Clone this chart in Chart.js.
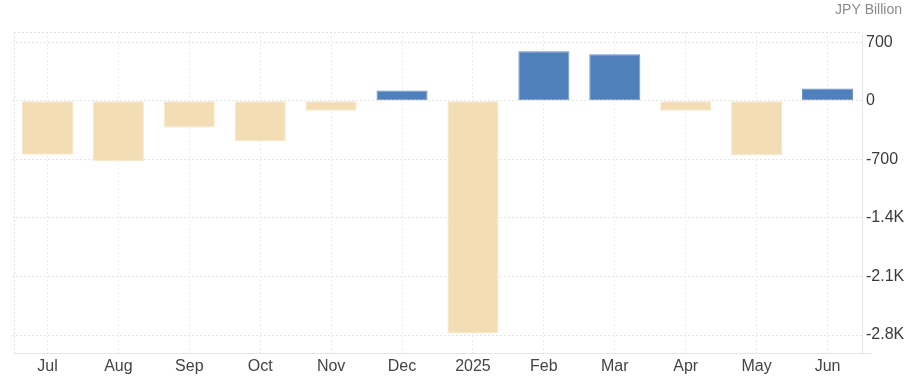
<!DOCTYPE html>
<html>
<head>
<meta charset="utf-8">
<script src="https://cdn.jsdelivr.net/npm/chart.js@4.4.1/dist/chart.umd.min.js"></script>
<style>
html,body{margin:0;padding:0;background:#fff;}
#wrap{width:914px;height:382px;position:relative;}
</style>
</head>
<body>
<div id="wrap"><canvas id="c" width="914" height="382"></canvas></div>
<script>
const categories = ['Jul','Aug','Sep','Oct','Nov','Dec','2025','Feb','Mar','Apr','May','Jun'];
const values = [-646, -723, -320, -485, -120, 123, -2781, 590, 554, -120, -650, 147];
const yTicks = [700, 0, -700, -1400, -2100, -2800];
const unitLabel = 'JPY Billion';

const posColor = '#5080BB';
const negColor = '#F3DDB4';

const framePlugin = {
  id: 'frame',
  beforeDatasetsDraw(chart) {
    const {ctx, chartArea: a} = chart;
    ctx.save();
    ctx.strokeStyle = '#e2e2e2';
    ctx.lineWidth = 1;
    ctx.setLineDash([2,2]);
    ctx.beginPath();
    ctx.moveTo(a.left + 2, a.top + 0.5);
    ctx.lineTo(a.right, a.top + 0.5);
    ctx.moveTo(a.left + 2.5, a.top);
    ctx.lineTo(a.left + 2.5, a.bottom);
    ctx.stroke();
    ctx.setLineDash([]);
    ctx.strokeStyle = '#e6e6e6';
    ctx.beginPath();
    ctx.moveTo(a.left + 2, a.bottom + 0.5);
    ctx.lineTo(a.right + 9, a.bottom + 0.5);
    ctx.moveTo(a.right - 0.5, a.top);
    ctx.lineTo(a.right - 0.5, a.bottom);
    ctx.stroke();
    ctx.restore();
  },
  afterDraw(chart) {
    const {ctx} = chart;
    ctx.save();
    ctx.font = '14px "Liberation Sans", Arial, sans-serif';
    ctx.fillStyle = '#8a8a8a';
    ctx.textAlign = 'right';
    ctx.textBaseline = 'middle';
    ctx.fillText(unitLabel, 902, 10);
    ctx.restore();
  }
};

new Chart(document.getElementById('c'), {
  type: 'bar',
  data: {
    labels: categories,
    datasets: [{
      data: values,
      backgroundColor: values.map(v => v >= 0 ? posColor : negColor),
      borderColor: values.map(v => v >= 0 ? '#6d95c6' : '#f7e7c9'),
      borderWidth: 1,
      borderSkipped: false,
      barPercentage: 0.8,
      categoryPercentage: 0.9
    }]
  },
  options: {
    responsive: false,
    animation: false,
    layout: { padding: { left: 12, top: 32, right: 0, bottom: 0 } },
    plugins: { legend: { display: false }, tooltip: { enabled: false }, title: { display: false } },
    scales: {
      x: {
        offset: true,
        grid: { offset: false, color: '#ececec', drawTicks: false },
        border: { display: false, dash: [2,2] },
        ticks: {
          color: '#444',
          font: { family: '"Liberation Sans", Arial, sans-serif', size: 16 },
          padding: 4,
          maxRotation: 0,
          autoSkip: false
        },
        afterFit(s) { s.height = 29; }
      },
      y: {
        position: 'right',
        min: -3014,
        max: 821,
        grid: { color: '#e6e6e6', drawTicks: false },
        border: { display: false, dash: [2,2] },
        afterBuildTicks(s) { s.ticks = yTicks.map(v => ({ value: v })); },
        ticks: {
          color: '#3a3a3a',
          font: { family: '"Liberation Sans", Arial, sans-serif', size: 16 },
          padding: 3,
          callback(v) {
            if (Math.abs(v) >= 1000) return (v / 1000).toFixed(1) + 'K';
            return String(v);
          }
        },
        afterFit(s) { s.width = 51; }
      }
    }
  },
  plugins: [framePlugin]
});
</script>
</body>
</html>
